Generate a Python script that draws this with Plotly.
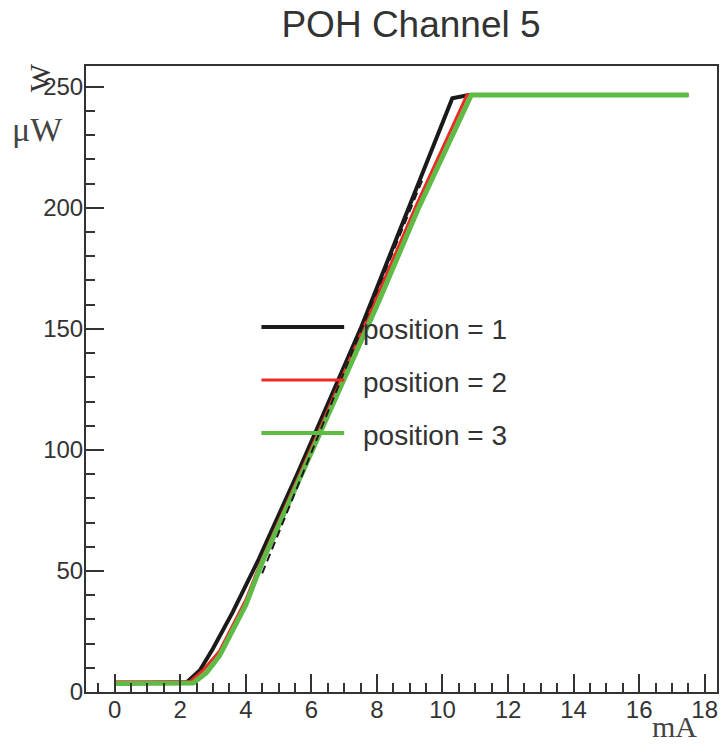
import plotly.graph_objects as go

# ---- data ----
x_pos1 = [0, 2.2, 2.6, 3.0, 3.6, 4.4, 5.6, 7.5, 8.94, 10.3, 10.8, 17.5]
y_pos1 = [3.5, 4.0, 9.0, 18.0, 33.0, 55.0, 91.0, 150.0, 199.0, 245.3, 246.6, 246.6]

x_pos2 = [0, 2.3, 2.7, 3.2, 4.0, 4.5, 6.3, 8.0, 9.2, 10.75, 17.5]
y_pos2 = [4.2, 4.3, 9.0, 17.0, 38.0, 55.0, 110.0, 163.0, 201.0, 246.7, 246.7]

x_pos3 = [0, 2.4, 2.8, 3.2, 4.0, 4.53, 6.3, 8.08, 9.24, 10.88, 17.5]
y_pos3 = [3.5, 3.7, 8.0, 15.0, 36.0, 54.5, 108.0, 162.0, 199.0, 246.6, 246.6]

x_fit = [4.5, 9.4]
y_fit = [49.0, 212.0]

legend_labels = ["position = 1", "position = 2", "position = 3"]
colors = ["#1a1a1a", "#ee2a24", "#5dbb46"]
widths = [4, 3, 5]

fig = go.Figure()
for xs, ys, c, w, name in zip([x_pos1, x_pos2, x_pos3], [y_pos1, y_pos2, y_pos3],
                              colors, widths, legend_labels):
    fig.add_trace(go.Scatter(x=xs, y=ys, mode="lines", name=name,
                             line=dict(color=c, width=w), showlegend=False))
fig.add_trace(go.Scatter(x=x_fit, y=y_fit, mode="lines", showlegend=False,
                         line=dict(color="#1a1a1a", width=2, dash="8px,5px")))

axis_col = "#333333"
tickfont = dict(family="Liberation Sans, Arial, sans-serif", size=24, color="#333333")

fig.update_xaxes(range=[-0.875, 18.375], showgrid=False, zeroline=False,
                 showline=True, linecolor=axis_col, linewidth=2, mirror=True,
                 ticks="inside", ticklen=18, tickwidth=2, tickcolor=axis_col,
                 tick0=0, dtick=2, tickfont=tickfont, ticklabelstandoff=-5,
                 minor=dict(ticks="inside", ticklen=9, tickwidth=2,
                            tickcolor=axis_col, dtick=0.5, tick0=0))
fig.update_yaxes(range=[0, 258.6], showgrid=False, zeroline=False,
                 showline=True, linecolor=axis_col, linewidth=2, mirror=True,
                 ticks="inside", ticklen=18, tickwidth=2, tickcolor=axis_col,
                 tick0=0, dtick=50, tickfont=tickfont, ticklabelstandoff=-4,
                 minor=dict(ticks="inside", ticklen=9, tickwidth=2,
                            tickcolor=axis_col, dtick=10, tick0=0))

L, R, T, B = 86, 2, 66, 53
W, H = 721, 745
pw, ph = W - L - R, H - T - B

def px(x):
    return (x - L) / pw

def py(y):
    return (H - B - y) / ph

shapes = []
annotations = []
leg_y = [327, 380, 433]
for lab, c, yy, w in zip(legend_labels, colors, leg_y, [4, 3, 4]):
    shapes.append(dict(type="line", xref="paper", yref="paper",
                       x0=px(262), x1=px(345), y0=py(yy), y1=py(yy),
                       line=dict(color=c, width=w), layer="above"))
    annotations.append(dict(text=lab, xref="paper", yref="paper",
                            x=px(362), y=py(yy + 2), xanchor="left", yanchor="middle",
                            showarrow=False,
                            font=dict(family="Liberation Sans, Arial, sans-serif",
                                      size=28, color="#333333")))

serif = "Liberation Serif, Times New Roman, serif"
annotations.append(dict(text="μW", xref="paper", yref="paper", x=px(37), y=py(129),
                        xanchor="center", yanchor="middle", showarrow=False,
                        font=dict(family=serif, size=34, color="#444444")))
annotations.append(dict(text="W", xref="paper", yref="paper", x=px(39), y=py(78),
                        xanchor="center", yanchor="middle", showarrow=False, textangle=-90,
                        font=dict(family=serif, size=30, color="#333333")))
annotations.append(dict(text="mA", xref="paper", yref="paper", x=px(676), y=py(727),
                        xanchor="center", yanchor="middle", showarrow=False,
                        font=dict(family=serif, size=30, color="#444444")))

fig.update_layout(
    width=W, height=H,
    margin=dict(l=L, r=R, t=T, b=B),
    paper_bgcolor="white", plot_bgcolor="white",
    title=dict(text="POH Channel 5", x=411 / W, xanchor="center",
               y=1 - 24 / H, yanchor="middle", yref="container",
               font=dict(family="Liberation Sans, Arial, sans-serif", size=37,
                         color="#333333")),
    shapes=shapes, annotations=annotations,
)

fig.write_html("out.html", config={"displayModeBar": False},
               post_script="document.body.style.margin='0';"
                           "document.body.style.padding='0';"
                           "document.body.style.overflow='hidden';"
                           "document.documentElement.style.overflow='hidden';")
